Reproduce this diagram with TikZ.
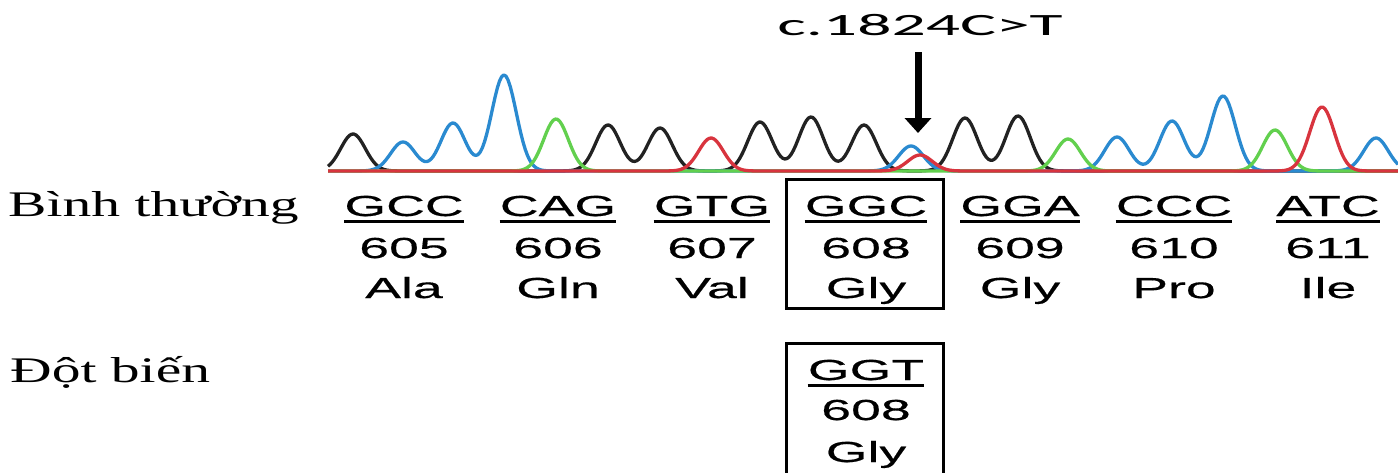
\documentclass[tikz,border=0pt]{standalone}
\usepackage{fontspec}
\setmainfont{Liberation Serif}
\newfontfamily\codonfont[FakeStretch=1.85, FakeBold=0.5]{Liberation Sans}
\newfontfamily\labelfont[FakeStretch=1.6]{Liberation Serif}
\newfontfamily\snpfont[FakeStretch=2.18]{Carlito}
\usetikzlibrary{arrows.meta, positioning}

\definecolor{traceblack}{HTML}{222222}
\definecolor{traceblue}{HTML}{2A8AD0}
\definecolor{tracegreen}{HTML}{62D04E}
\definecolor{tracered}{HTML}{D8343E}

\begin{document}
\begin{tikzpicture}[x=1pt, y=-1pt,
  rowlabel/.style={font=\labelfont\fontsize{36}{40}\selectfont, anchor=base west, inner sep=0pt},
  codon/.style={font=\codonfont\fontsize{29}{32}\selectfont, anchor=base, inner sep=0pt},
  snp/.style={font=\snpfont\fontsize{31}{34}\selectfont, anchor=base, inner sep=0pt},
  uline/.style={line width=2.2pt},
  boxline/.style={line width=3pt},
  trace/.style={line width=3.3pt, line join=round},
  snparrow/.style={line width=7pt, -{Triangle[width=26pt, length=15pt]}},
  declare function={g(\a,\c,\h)=\h*exp(-min(((\a-\c)/12.3)^2/2, 9));},
]
\useasboundingbox (0,0) rectangle (1398,472);

% chromatogram traces, one per base
\draw[trace, traceblack] plot[domain=328:1398, samples=500] (\x, {171-g(\x,353,37)-g(\x,608,46)-g(\x,660,43)-g(\x,760,49)-g(\x,811,54)-g(\x,864,46)-g(\x,965,53)-g(\x,1018,55)});
\draw[trace, traceblue] plot[domain=328:1398, samples=500] (\x, {171-g(\x,403,29)-g(\x,453,48)-g(\x,504,96)-g(\x,911,25)-g(\x,1117,34)-g(\x,1172,50)-g(\x,1223,75)-g(\x,1376,33)});
\draw[trace, tracegreen] plot[domain=328:1398, samples=500] (\x, {171-g(\x,556,52)-g(\x,1068,32)-g(\x,1275,41)});
\draw[trace, tracered] plot[domain=328:1398, samples=500] (\x, {171-g(\x,711,33)-g(\x,920,16)-g(\x,1322,64)});

% mutation label and arrow
\node[snp] (snp) at (920,35) {c.1824C>T};
\coordinate (snp tip) at (918,133);
\draw[snparrow, shorten <=17pt] (snp.south -| snp tip) -- (snp tip);

% normal sequence
\node[rowlabel] (normal) at (8,216) {Bình thường};
\foreach \cod/\num/\amino [count=\i] in {GCC/605/Ala, CAG/606/Gln, GTG/607/Val, GGC/608/Gly, GGA/609/Gly, CCC/610/Pro, ATC/611/Ile} {
  \node[codon] (cod-\i) at ({250+154*\i}, 216) {\cod};
  \draw[uline] ([yshift=-5.5pt]cod-\i.base west) -- ([yshift=-5.5pt]cod-\i.base east);
  \node[codon] (num-\i) at ({250+154*\i}, 258) {\num};
  \node[codon] (amino-\i) at ({250+154*\i}, 298) {\amino};
}
\draw[boxline] (786,179) rectangle (943,308);

% mutant
\node[rowlabel] (mutant) at (10,382) {Đột biến};
\node[codon] (mcod) at (866,380) {GGT};
\draw[uline] ([yshift=-5.5pt]mcod.base west) -- ([yshift=-5.5pt]mcod.base east);
\node[codon] (mnum) at (866,420) {608};
\node[codon] (mamino) at (866,462) {Gly};
\draw[boxline] (786,480) -- (786,343) -- (943,343) -- (943,480);

\end{tikzpicture}
\end{document}
